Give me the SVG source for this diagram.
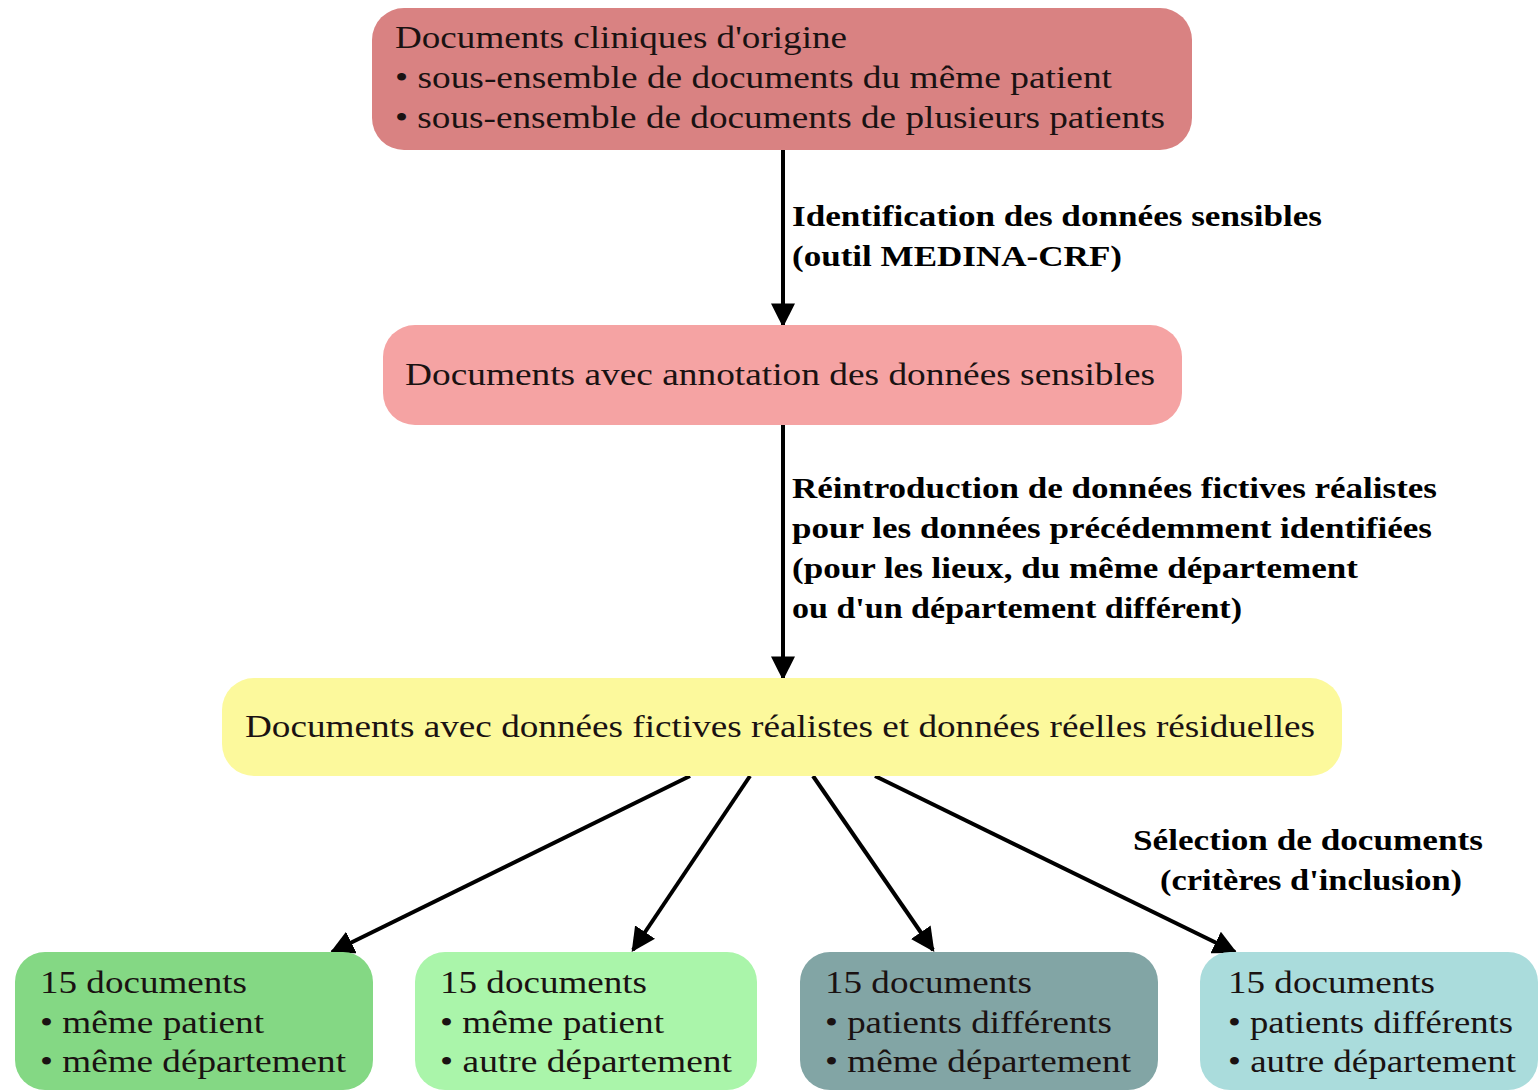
<svg xmlns="http://www.w3.org/2000/svg" width="1540" height="1090" viewBox="0 0 1540 1090">
<style>
.t{font-family:"Liberation Serif","DejaVu Serif",serif;font-size:31px;fill:#1a1212}
.l{font-family:"Liberation Serif","DejaVu Serif",serif;font-size:30px;fill:#000;font-weight:bold}
.c{stroke:#000;stroke-width:4;fill:none;marker-end:url(#ah)}
</style>
<defs>
<marker id="ah" viewBox="0 0 10 10" refX="9" refY="5" markerWidth="6" markerHeight="6" markerUnits="strokeWidth" orient="auto">
<path d="M0,0 L10,5 L0,10 z" fill="#000"/>
</marker>
</defs>
<rect width="1540" height="1090" fill="#fff"/>
<g id="connectors">
<line class="c" x1="783" y1="150" x2="783" y2="325"/>
<line class="c" x1="783" y1="425" x2="783" y2="678"/>
<line class="c" x1="690" y1="776" x2="332" y2="952"/>
<line class="c" x1="750" y1="776" x2="633" y2="950"/>
<line class="c" x1="813" y1="776" x2="933" y2="950"/>
<line class="c" x1="875" y1="776" x2="1235" y2="952"/>
<text class="l" x="792" y="226" textLength="530" lengthAdjust="spacingAndGlyphs">Identification des données sensibles</text>
<text class="l" x="792" y="266" textLength="330" lengthAdjust="spacingAndGlyphs">(outil MEDINA-CRF)</text>
<text class="l" x="792" y="498" textLength="645" lengthAdjust="spacingAndGlyphs">Réintroduction de données fictives réalistes</text>
<text class="l" x="792" y="538" textLength="640" lengthAdjust="spacingAndGlyphs">pour les données précédemment identifiées</text>
<text class="l" x="792" y="578" textLength="566" lengthAdjust="spacingAndGlyphs">(pour les lieux, du même département</text>
<text class="l" x="792" y="618" textLength="450" lengthAdjust="spacingAndGlyphs">ou d'un département différent)</text>
<text class="l" x="1133" y="850" textLength="350" lengthAdjust="spacingAndGlyphs">Sélection de documents</text>
<text class="l" x="1160" y="890" textLength="302" lengthAdjust="spacingAndGlyphs">(critères d'inclusion)</text>
</g>
<g id="n1">
<rect x="372" y="8" width="820" height="142" rx="32" fill="#d98282"/>
<text class="t" x="395" y="48" textLength="452" lengthAdjust="spacingAndGlyphs">Documents cliniques d'origine</text>
<text class="t" x="395" y="88" textLength="717" lengthAdjust="spacingAndGlyphs">• sous-ensemble de documents du même patient</text>
<text class="t" x="395" y="128" textLength="770" lengthAdjust="spacingAndGlyphs">• sous-ensemble de documents de plusieurs patients</text>
</g>
<g id="n2">
<rect x="383" y="325" width="799" height="100" rx="32" fill="#f5a3a3"/>
<text class="t" x="405" y="385" textLength="750" lengthAdjust="spacingAndGlyphs">Documents avec annotation des données sensibles</text>
</g>
<g id="n3">
<rect x="222" y="678" width="1120" height="98" rx="32" fill="#fcf99c"/>
<text class="t" x="245" y="737" textLength="1070" lengthAdjust="spacingAndGlyphs">Documents avec données fictives réalistes et données réelles résiduelles</text>
</g>
<g id="n4">
<rect x="15" y="952" width="358" height="138" rx="30" fill="#84d884"/>
<text class="t" x="40" y="993" textLength="207" lengthAdjust="spacingAndGlyphs">15 documents</text>
<text class="t" x="40" y="1033" textLength="224" lengthAdjust="spacingAndGlyphs">• même patient</text>
<text class="t" x="40" y="1072" textLength="306" lengthAdjust="spacingAndGlyphs">• même département</text>
</g>
<g id="n5">
<rect x="415" y="952" width="342" height="138" rx="30" fill="#aaf5aa"/>
<text class="t" x="440" y="993" textLength="207" lengthAdjust="spacingAndGlyphs">15 documents</text>
<text class="t" x="440" y="1033" textLength="224" lengthAdjust="spacingAndGlyphs">• même patient</text>
<text class="t" x="440" y="1072" textLength="292" lengthAdjust="spacingAndGlyphs">• autre département</text>
</g>
<g id="n6">
<rect x="800" y="952" width="358" height="138" rx="30" fill="#82a5a5"/>
<text class="t" x="825" y="993" textLength="207" lengthAdjust="spacingAndGlyphs">15 documents</text>
<text class="t" x="825" y="1033" textLength="287" lengthAdjust="spacingAndGlyphs">• patients différents</text>
<text class="t" x="825" y="1072" textLength="306" lengthAdjust="spacingAndGlyphs">• même département</text>
</g>
<g id="n7">
<rect x="1200" y="952" width="338" height="138" rx="30" fill="#aadcdc"/>
<text class="t" x="1228" y="993" textLength="207" lengthAdjust="spacingAndGlyphs">15 documents</text>
<text class="t" x="1228" y="1033" textLength="285" lengthAdjust="spacingAndGlyphs">• patients différents</text>
<text class="t" x="1228" y="1072" textLength="288" lengthAdjust="spacingAndGlyphs">• autre département</text>
</g>
</svg>
